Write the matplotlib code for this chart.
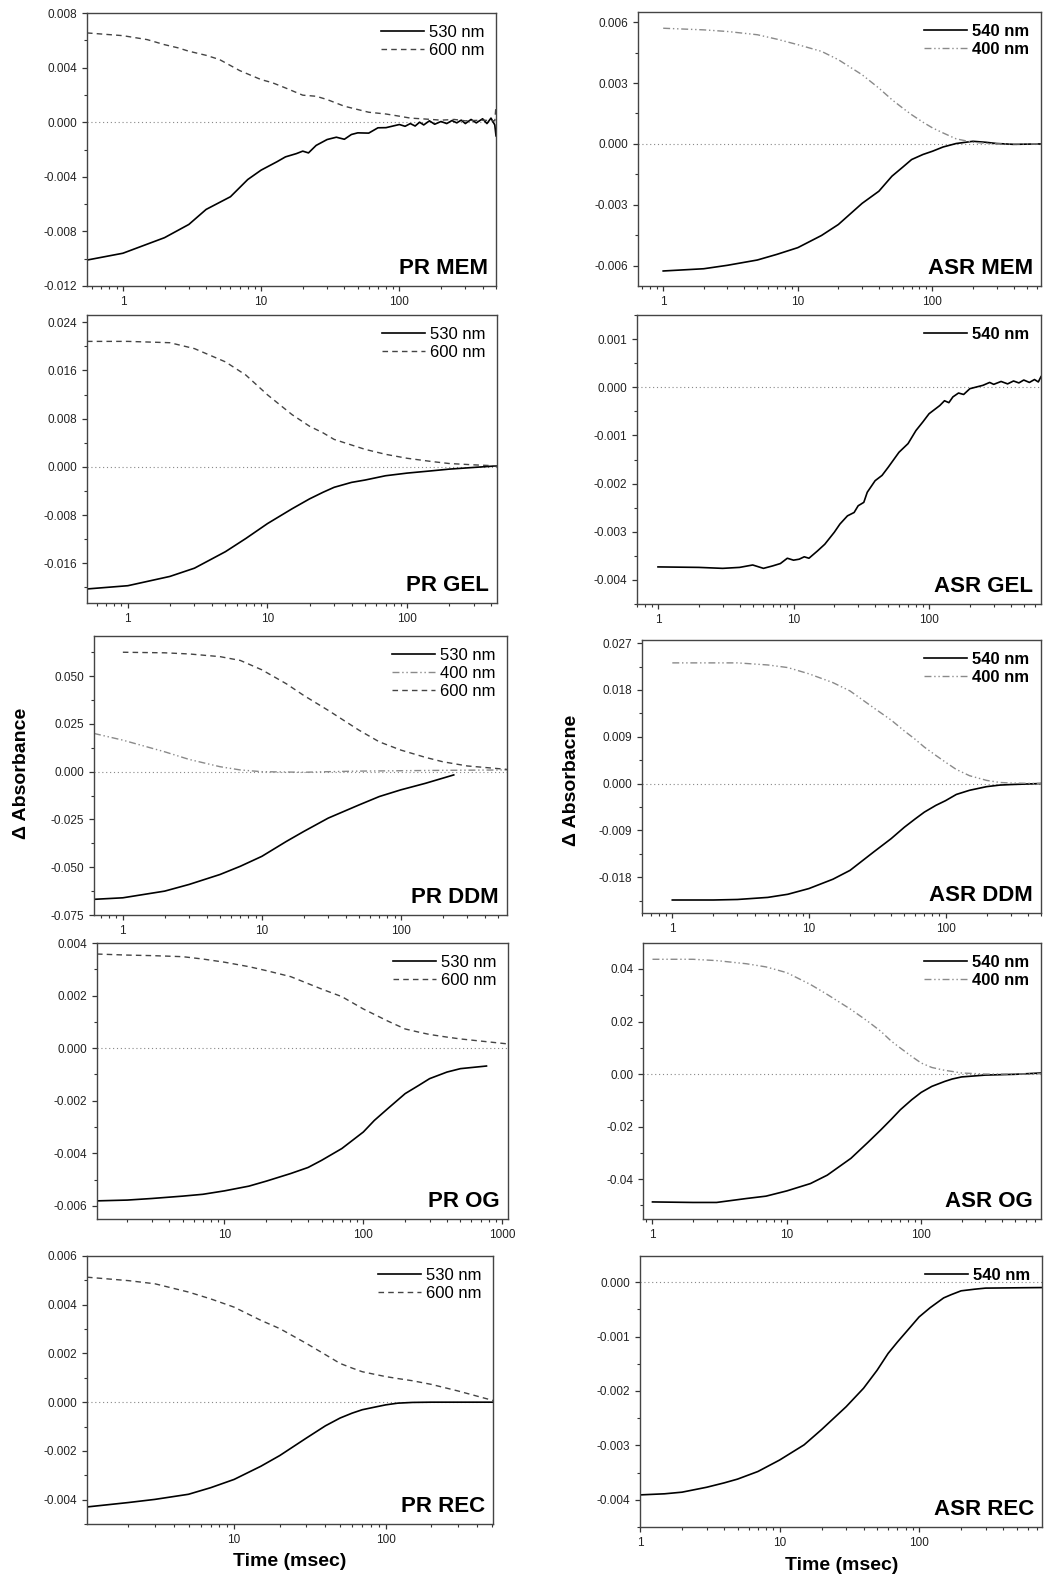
import numpy as np
import matplotlib
matplotlib.use('Agg')
import matplotlib.pyplot as plt
from matplotlib.ticker import (FixedLocator, FuncFormatter, LogLocator,
                               NullFormatter, FormatStrFormatter, AutoMinorLocator)

plt.rcParams['font.family'] = ['Liberation Sans', 'DejaVu Sans']
plt.rcParams['axes.unicode_minus'] = False

W, H = 1046, 1580

# ---------------- data ----------------
# PR MEM
t_prmem_530 = [0.55, 1, 2, 3, 4, 6, 8, 10, 13, 15, 18, 20, 22, 25, 30, 35, 40, 45, 50, 60, 70, 80, 100,
               110, 120, 130, 140, 150, 165, 180, 200, 220, 240, 260, 280, 300, 330, 360, 400, 430, 460, 490, 500]
a_prmem_530 = [-0.0101, -0.0096, -0.00846, -0.00749, -0.00639, -0.00546, -0.0042, -0.00351, -0.0029, -0.00254,
               -0.0023, -0.00212, -0.00225, -0.0017, -0.00127, -0.0011, -0.00125, -0.0009, -0.00078, -0.0008,
               -0.00041, -0.0004, -0.00017, -0.0003, -0.0001, -0.00028, 0.0, -0.0002, 0.0001, -0.00015, 0.00005,
               -0.0001, 0.00012, -0.00005, 0.00015, -0.0001, 0.0002, -0.00005, 0.00025, -0.0001, 0.0003, -0.0002, -0.001]
t_prmem_600 = [0.55, 1, 1.5, 2, 2.5, 3, 4, 5, 7, 10, 12, 15, 20, 25, 30, 40, 60, 80, 100, 120, 150, 200,
               250, 300, 400, 490, 500]
a_prmem_600 = [0.00654, 0.00634, 0.00605, 0.00568, 0.00545, 0.0052, 0.0049, 0.00459, 0.00378, 0.00312,
               0.0029, 0.00251, 0.00198, 0.0019, 0.00166, 0.00117, 0.00073, 0.0006, 0.00044, 0.0003, 0.00024,
               0.00015, 0.0002, 0.0001, 0.00015, 0.0001, 0.0012]

# ASR MEM
t_asrmem = [1, 2, 3, 5, 7, 10, 15, 20, 30, 40, 50, 60, 70, 85, 100, 120, 150, 200, 250, 300, 400, 640]
a_asrmem_540 = [-0.00626, -0.00615, -0.00598, -0.00572, -0.00544, -0.00511, -0.00451, -0.00397, -0.00293,
                -0.00233, -0.00159, -0.00115, -0.00077, -0.00052, -0.00036, -0.00015, 0.00002, 0.00013,
                0.00008, 0.00002, -0.00002, 0.0]
a_asrmem_400 = [0.0057, 0.00562, 0.00554, 0.00538, 0.00516, 0.00489, 0.00456, 0.00415, 0.00341, 0.00275,
                0.00218, 0.00177, 0.00144, 0.00107, 0.00079, 0.00054, 0.00025, 0.00008, 0.00003, 0.0, 0.0, 0.0]

# PR GEL
t_prgel = [0.51, 1, 2, 3, 5, 7, 10, 15, 20, 25, 30, 40, 50, 70, 100, 150, 200, 300, 440]
a_prgel_530 = [-0.02027, -0.01973, -0.01819, -0.01682, -0.01408, -0.01189, -0.00942, -0.00696, -0.00532,
               -0.00422, -0.0034, -0.00258, -0.00219, -0.00148, -0.00104, -0.00066, -0.00038, -0.0001, 0.00016]
a_prgel_600 = [0.02082, 0.02082, 0.0206, 0.01962, 0.01742, 0.01523, 0.01195, 0.00866, 0.00674, 0.00564,
               0.00455, 0.00362, 0.0029, 0.00208, 0.00142, 0.00088, 0.00055, 0.00033, 0.00016]

# ASR GEL
t_asrgel = [1, 2, 3, 4, 5, 6, 7, 8, 9, 10, 11, 12, 13, 15, 17, 20, 22, 25, 28, 30, 33, 35, 40, 45, 50, 60,
            70, 80, 90, 100, 120, 130, 140, 150, 165, 180, 200, 220, 250, 280, 300, 340, 380, 420, 460, 500,
            550, 600, 640, 670]
a_asrgel_540 = [-0.00373, -0.00374, -0.00376, -0.00374, -0.00369, -0.00376, -0.00371, -0.00366, -0.00355,
                -0.00359, -0.00357, -0.00352, -0.00355, -0.0034, -0.00326, -0.00301, -0.00284, -0.00267,
                -0.0026, -0.00246, -0.00239, -0.00218, -0.00194, -0.00183, -0.00166, -0.00135, -0.00117,
                -0.0009, -0.00072, -0.00055, -0.00038, -0.00028, -0.00032, -0.0002, -0.00012, -0.00015,
                -0.00003, 0.0, 0.00004, 0.0001, 0.00006, 0.00012, 0.00007, 0.00013, 0.00009, 0.00015, 0.0001,
                0.00016, 0.00011, 0.00022]

# PR DDM
t_prddm_530 = [0.62, 1, 2, 3, 5, 7, 10, 15, 20, 30, 50, 70, 100, 150, 240]
a_prddm_530 = [-0.0668, -0.066, -0.0625, -0.059, -0.0538, -0.0495, -0.0443, -0.0365, -0.0313, -0.0243,
               -0.0174, -0.013, -0.0095, -0.0061, -0.0017]
t_prddm_600 = [1, 2, 3, 5, 7, 10, 15, 20, 30, 50, 70, 100, 150, 200, 300, 580]
a_prddm_600 = [0.0625, 0.0622, 0.0616, 0.0602, 0.0582, 0.0533, 0.046, 0.0399, 0.0321, 0.0217, 0.0156,
               0.0113, 0.0075, 0.0052, 0.003, 0.0012]
t_prddm_400 = [0.62, 1, 2, 3, 5, 7, 10, 20, 30, 50, 100, 200, 580]
a_prddm_400 = [0.02, 0.0165, 0.0104, 0.0064, 0.0026, 0.0009, 0.0, -0.0003, 0.0, 0.0003, 0.0005, 0.0007, 0.0009]

# ASR DDM
t_asrddm = [1, 2, 3, 5, 7, 10, 15, 20, 30, 40, 50, 60, 70, 85, 100, 120, 150, 200, 250, 300, 500]
a_asrddm_540 = [-0.0224, -0.0224, -0.0223, -0.0219, -0.0213, -0.0202, -0.0184, -0.0167, -0.0131, -0.0106,
                -0.0084, -0.0068, -0.0055, -0.0042, -0.0033, -0.0021, -0.0013, -0.0006, -0.0003, -0.0002, 0.0]
a_asrddm_400 = [0.0232, 0.0232, 0.0232, 0.0228, 0.0223, 0.0211, 0.0194, 0.0178, 0.0145, 0.0122, 0.0101,
                0.0085, 0.007, 0.0054, 0.0041, 0.0027, 0.0015, 0.0006, 0.0002, 0.0001, 0.0]

# PR OG
t_prog_530 = [1.21, 2, 3, 5, 7, 10, 15, 20, 30, 40, 50, 70, 100, 120, 150, 200, 250, 300, 400, 500, 770]
a_prog_530 = [-0.00581, -0.00578, -0.00572, -0.00563, -0.00556, -0.00543, -0.00525, -0.00506, -0.00477,
              -0.00454, -0.00427, -0.00382, -0.00319, -0.00275, -0.0023, -0.00173, -0.00142, -0.00116,
              -0.00091, -0.00078, -0.00068]
t_prog_600 = [1.21, 2, 3, 5, 7, 10, 15, 20, 30, 50, 70, 100, 150, 200, 250, 300, 400, 500, 1100]
a_prog_600 = [0.00358, 0.00354, 0.00352, 0.00348, 0.00339, 0.00327, 0.0031, 0.00295, 0.00272, 0.00225,
              0.00196, 0.00149, 0.00103, 0.00073, 0.00061, 0.00052, 0.00042, 0.00035, 0.00016]

# ASR OG
t_asrog = [1, 2, 3, 5, 7, 10, 15, 20, 30, 40, 50, 60, 70, 85, 100, 120, 150, 170, 200, 300, 500, 780]
a_asrog_540 = [-0.0487, -0.0489, -0.0489, -0.0474, -0.0465, -0.0445, -0.0417, -0.0385, -0.0321, -0.0261,
               -0.0213, -0.0172, -0.0136, -0.0098, -0.007, -0.0047, -0.0028, -0.0019, -0.0011, -0.0004,
               -0.0001, 0.0004]
a_asrog_400 = [0.0437, 0.0437, 0.0432, 0.042, 0.0408, 0.0386, 0.0341, 0.0303, 0.0246, 0.0201, 0.0163,
               0.0125, 0.0099, 0.0067, 0.0042, 0.0025, 0.0014, 0.001, 0.0004, 0.0, 0.0, 0.0001]

# PR REC
t_prrec = [1.07, 2, 3, 5, 7, 10, 15, 20, 30, 40, 50, 60, 70, 85, 100, 120, 150, 200, 300, 510]
a_prrec_530 = [-0.0043, -0.00412, -0.00399, -0.00378, -0.00351, -0.00317, -0.00263, -0.00219, -0.00147,
               -0.00097, -0.00065, -0.00045, -0.00031, -0.0002, -0.00011, -0.00004, -0.00001, 0.0, 0.0, 0.0]
a_prrec_600 = [0.00513, 0.00499, 0.00486, 0.00452, 0.00424, 0.0039, 0.00336, 0.00302, 0.00241, 0.00195,
               0.00159, 0.0014, 0.00125, 0.00114, 0.00105, 0.00097, 0.00088, 0.00073, 0.00046, 0.00007]

# ASR REC
t_asrrec = [1, 1.5, 2, 3, 4, 5, 7, 10, 15, 20, 30, 40, 50, 60, 70, 85, 100, 120, 150, 170, 200, 250, 300, 760]
a_asrrec_540 = [-0.00391, -0.00389, -0.00386, -0.00377, -0.00369, -0.00362, -0.00348, -0.00327, -0.00299,
                -0.00271, -0.00229, -0.00195, -0.00162, -0.00131, -0.0011, -0.00085, -0.00064, -0.00047,
                -0.00029, -0.00023, -0.00016, -0.00013, -0.00011, -0.0001]

# ---------------- styles ----------------
S530 = dict(color='black', lw=1.2, ls='-')
S600 = dict(color='#444444', lw=1.0, ls=(0, (4, 3)))
S400 = dict(color='#8a8a8a', lw=1.0, ls=(0, (5, 2, 1, 2, 1, 2)))

fig = plt.figure(figsize=(W / 100, H / 100), dpi=100)


def px_rect(l, t, r, b):
    return [l / W, 1 - b / H, (r - l) / W, (b - t) / H]


def panel(rect, xlim, ylim, yticks, yfmt, name, curves, bold_leg=False, xmajor=(1, 10, 100)):
    ax = fig.add_axes(px_rect(*rect))
    ax.set_xscale('log')
    ax.axhline(0, color='#888888', lw=0.8, ls=(0, (1, 2.5)), zorder=1)
    for t, a, lab, st in curves:
        ax.plot(t, a, label=lab, zorder=2, **st)
    ax.set_xlim(*xlim)
    ax.set_ylim(*ylim)
    ax.xaxis.set_major_locator(FixedLocator(list(xmajor)))
    ax.xaxis.set_major_formatter(FuncFormatter(lambda v, p: '%d' % v))
    ax.xaxis.set_minor_locator(LogLocator(base=10, subs=np.arange(2, 10)))
    ax.xaxis.set_minor_formatter(NullFormatter())
    ax.yaxis.set_major_locator(FixedLocator(yticks))
    ax.yaxis.set_major_formatter(FormatStrFormatter(yfmt))
    ax.yaxis.set_minor_locator(AutoMinorLocator(2))
    ax.tick_params(which='both', direction='out', colors='#333333', labelcolor='#222222',
                   labelsize=8.5, top=False, right=False)
    ax.tick_params(which='major', length=3.5, width=0.9)
    ax.tick_params(which='minor', length=2, width=0.8)
    for sp in ax.spines.values():
        sp.set_color('#444444')
        sp.set_linewidth(1.0)
    ax.legend(loc='upper right', frameon=False, handlelength=2.6, handletextpad=0.3,
              labelspacing=0.2, borderaxespad=0.3,
              prop=dict(size=12, weight='bold' if bold_leg else 'normal'))
    ax.text(0.98, 0.025, name, transform=ax.transAxes, ha='right', va='bottom',
            fontsize=16, fontweight='bold')
    return ax


panel((87, 13, 496, 286), (0.55, 500), (-0.012, 0.008), [-0.012, -0.008, -0.004, 0.0, 0.004, 0.008], '%.3f',
      'PR MEM', [(t_prmem_530, a_prmem_530, '530 nm', S530), (t_prmem_600, a_prmem_600, '600 nm', S600)])
panel((638, 12, 1041, 286), (0.65, 640), (-0.007, 0.0065), [-0.006, -0.003, 0.0, 0.003, 0.006], '%.3f',
      'ASR MEM', [(t_asrmem, a_asrmem_540, '540 nm', S530), (t_asrmem, a_asrmem_400, '400 nm', S400)],
      bold_leg=True)
panel((87, 315, 497, 603), (0.51, 440), (-0.0226, 0.0252), [-0.016, -0.008, 0.0, 0.008, 0.016, 0.024], '%.3f',
      'PR GEL', [(t_prgel, a_prgel_530, '530 nm', S530), (t_prgel, a_prgel_600, '600 nm', S600)])
panel((637, 315, 1041, 604), (0.7, 670), (-0.0045, 0.0015), [-0.004, -0.003, -0.002, -0.001, 0.0, 0.001], '%.3f',
      'ASR GEL', [(t_asrgel, a_asrgel_540, '540 nm', S530)], bold_leg=True)
panel((94, 636, 507, 915), (0.62, 580), (-0.075, 0.071), [-0.075, -0.05, -0.025, 0.0, 0.025, 0.05], '%.3f',
      'PR DDM', [(t_prddm_530, a_prddm_530, '530 nm', S530), (t_prddm_400, a_prddm_400, '400 nm', S400),
                 (t_prddm_600, a_prddm_600, '600 nm', S600)])
panel((642, 640, 1041, 913), (0.6, 500), (-0.0249, 0.0276), [-0.018, -0.009, 0.0, 0.009, 0.018, 0.027],
      '%.3f', 'ASR DDM', [(t_asrddm, a_asrddm_540, '540 nm', S530), (t_asrddm, a_asrddm_400, '400 nm', S400)],
      bold_leg=True)
panel((97, 943, 508, 1219), (1.21, 1100), (-0.0065, 0.004), [-0.006, -0.004, -0.002, 0.0, 0.002, 0.004], '%.3f',
      'PR OG', [(t_prog_530, a_prog_530, '530 nm', S530), (t_prog_600, a_prog_600, '600 nm', S600)],
      xmajor=(10, 100, 1000))
panel((643, 943, 1041, 1219), (0.85, 780), (-0.0552, 0.0499), [-0.04, -0.02, 0.0, 0.02, 0.04], '%.2f',
      'ASR OG', [(t_asrog, a_asrog_540, '540 nm', S530), (t_asrog, a_asrog_400, '400 nm', S400)], bold_leg=True)
panel((87, 1256, 493, 1524), (1.07, 510), (-0.005, 0.006), [-0.004, -0.002, 0.0, 0.002, 0.004, 0.006],
      '%.3f', 'PR REC', [(t_prrec, a_prrec_530, '530 nm', S530), (t_prrec, a_prrec_600, '600 nm', S600)],
      xmajor=(10, 100))
panel((640, 1256, 1042, 1527), (1.0, 760), (-0.0045, 0.00048), [-0.004, -0.003, -0.002, -0.001, 0.0],
      '%.3f', 'ASR REC', [(t_asrrec, a_asrrec_540, '540 nm', S530)], bold_leg=True)

fig.text(22 / W, 1 - 773 / H, '\u0394 Absorbance', rotation=90, ha='center', va='center',
         fontsize=14, fontweight='bold')
fig.text(572 / W, 1 - 780 / H, '\u0394 Absorbacne', rotation=90, ha='center', va='center',
         fontsize=14, fontweight='bold')
fig.text(290 / W, 1 - 1562 / H, 'Time (msec)', ha='center', va='center', fontsize=14, fontweight='bold')
fig.text(842 / W, 1 - 1566 / H, 'Time (msec)', ha='center', va='center', fontsize=14, fontweight='bold')

fig.savefig('out.png', dpi=100, facecolor='white')
